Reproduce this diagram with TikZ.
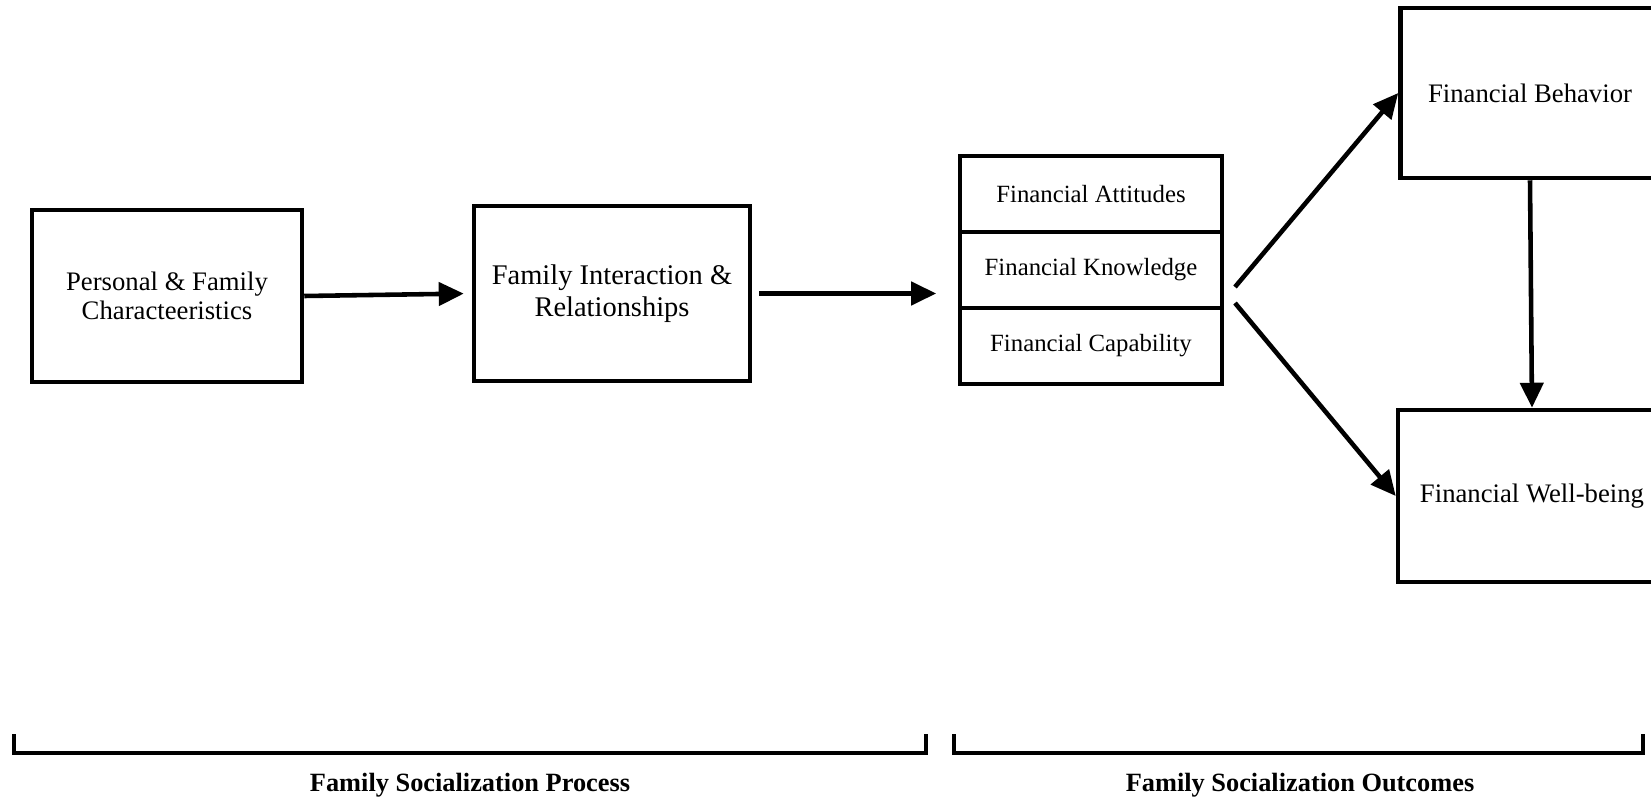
\documentclass[tikz,border=0pt]{standalone}
\usepackage{fontspec}
\setmainfont{Liberation Serif}
\usetikzlibrary{arrows.meta}

\begin{document}
\begin{tikzpicture}[x=0.02cm,y=-0.02cm,
    box/.style={draw,line width=2.6pt,align=center,inner sep=0pt},
    cell/.style={draw,line width=2.1pt,minimum width=5.24cm,minimum height=1.53cm,inner sep=0pt,font=\fontsize{14.1}{16}\selectfont},
    arr/.style={line width=2.6pt,-{Triangle[length=0.5cm,width=0.46cm]}},
    brk/.style={line width=2.2pt},
    lbl/.style={font=\fontsize{15}{17}\selectfont\bfseries}]
  \useasboundingbox (0,0) rectangle (1651,800);

  % process boxes
  \node[box,minimum width=5.4cm,minimum height=3.44cm,font=\fontsize{15.2}{16.8}\selectfont] (pfc) at (167,296) {Personal \& Family\\Characteeristics};
  \node[box,minimum width=5.52cm,minimum height=3.5cm,font=\fontsize{16.2}{18}\selectfont] (fir) at (612,293.5) {Family Interaction \&\\Relationships};

  % stacked outcomes
  \node[cell] (att) at (1091,194) {Financial Attitudes};
  \node[cell] (know) at (1091,270) {Financial Knowledge};
  \node[cell] (cap) at (1091,346) {Financial Capability};

  \node[box,minimum width=5.18cm,minimum height=3.4cm,font=\fontsize{15.2}{17}\selectfont] (beh) at (1530,93) {Financial Behavior};
  \node[box,minimum width=5.36cm,minimum height=3.44cm,font=\fontsize{15.2}{17}\selectfont] (wb) at (1532,496) {Financial Well-being};

  % arrows
  \draw[arr,shorten >=0.16cm] (pfc.east) -- (fir.west);
  \draw[arr,shorten <=0.14cm,shorten >=0.44cm] (fir.east) -- (fir.east -| know.west);
  \coordinate (splitA) at (1235,287);
  \coordinate (splitB) at (1235,303);
  \draw[arr] (splitA) -- (beh.west);
  \draw[arr] (splitB) -- (wb.west);
  \draw[arr] (beh.south) -- (wb.north);

  % brackets
  \draw[brk] (14,734) -- (14,753) -- (926,753) -- (926,734);
  \node[lbl] (proc) at (470,785) {Family Socialization Process};
  \draw[brk] (954,734) -- (954,753) -- (1643,753) -- (1643,734);
  \node[lbl] (outc) at (1300,785) {Family Socialization Outcomes};
\end{tikzpicture}
\end{document}
